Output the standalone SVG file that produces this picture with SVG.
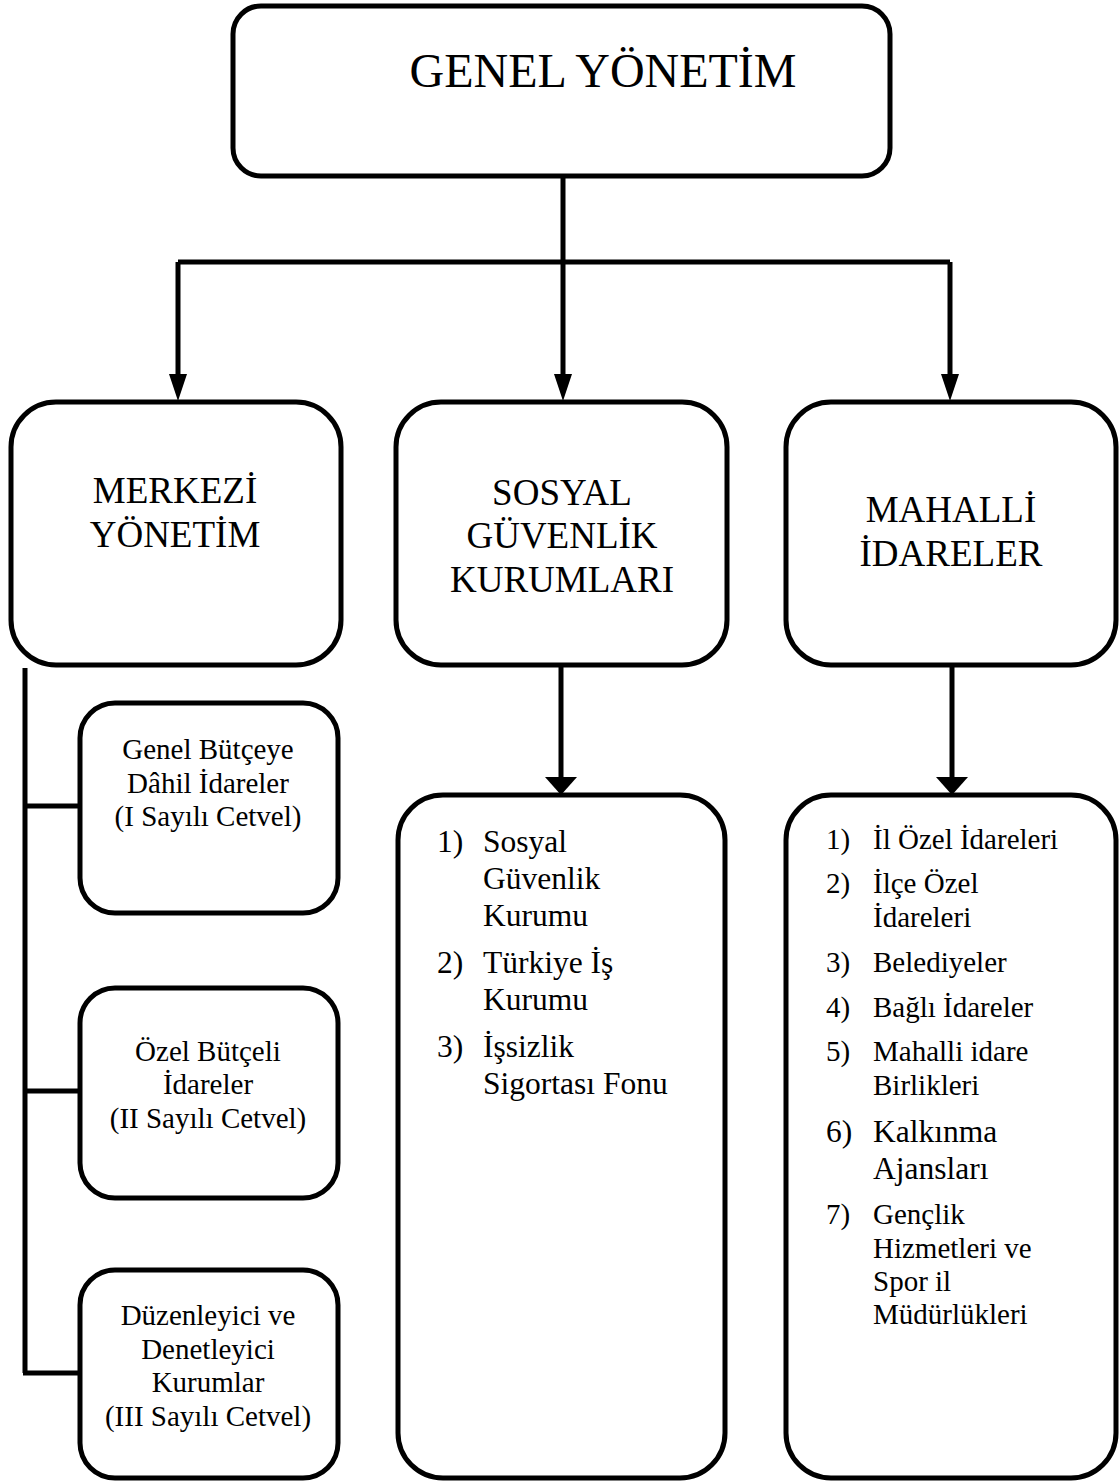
<svg xmlns="http://www.w3.org/2000/svg" width="1120" height="1483" viewBox="0 0 1120 1483">
<style>
.box{fill:#fff;stroke:#000;stroke-width:5}
.ln{fill:none;stroke:#000;stroke-width:5}
text{font-family:"Liberation Serif","Times New Roman",serif;fill:#000}
.t48{font-size:48px}
.t37{font-size:37px;text-anchor:middle}
.t29{font-size:29px}
.t31{font-size:31.5px}
.c{text-anchor:middle}
</style>
<rect width="1120" height="1483" fill="#fff"/>
<g id="connectors">
<path class="ln" d="M563 176 V378"/>
<path class="ln" d="M178 262 H950"/>
<path class="ln" d="M178 262 V378"/>
<path class="ln" d="M950 262 V378"/>
<polygon points="169,374 187,374 178,401"/>
<polygon points="554,374 572,374 563,401"/>
<polygon points="941,374 959,374 950,401"/>
<path class="ln" d="M561 665 V780"/>
<path class="ln" d="M952 665 V780"/>
<polygon points="545,777 577,777 561,795"/>
<polygon points="936,777 968,777 952,795"/>
<path class="ln" d="M25 668 V1373"/>
<path class="ln" d="M23 806 H80 M23 1091 H80 M23 1373 H80"/>
</g>
<g id="genel-yonetim">
<rect class="box" x="233" y="6" width="657" height="170" rx="28"/>
<text class="t48" x="603" y="87" text-anchor="middle">GENEL YÖNETİM</text>
</g>
<g id="merkezi-yonetim">
<rect class="box" x="11" y="402" width="330" height="263" rx="45"/>
<text class="t37"><tspan x="175" y="503">MERKEZİ</tspan><tspan x="175" y="547">YÖNETİM</tspan></text>
</g>
<g id="sosyal-guvenlik">
<rect class="box" x="396" y="402" width="331" height="263" rx="45"/>
<text class="t37"><tspan x="562" y="505">SOSYAL</tspan><tspan x="562" y="548">GÜVENLİK</tspan><tspan x="562" y="592">KURUMLARI</tspan></text>
</g>
<g id="mahalli-idareler">
<rect class="box" x="786" y="402" width="330" height="263" rx="45"/>
<text class="t37"><tspan x="951" y="522">MAHALLİ</tspan><tspan x="951" y="566">İDARELER</tspan></text>
</g>
<g id="genel-butce">
<rect class="box" x="80" y="703" width="258" height="210" rx="35"/>
<text class="t29 c"><tspan x="208" y="759">Genel Bütçeye</tspan><tspan x="208" y="793">Dâhil İdareler</tspan><tspan x="208" y="826">(I Sayılı Cetvel)</tspan></text>
</g>
<g id="ozel-butce">
<rect class="box" x="80" y="988" width="258" height="210" rx="35"/>
<text class="t29 c"><tspan x="208" y="1061">Özel Bütçeli</tspan><tspan x="208" y="1094">İdareler</tspan><tspan x="208" y="1128">(II Sayılı Cetvel)</tspan></text>
</g>
<g id="duzenleyici">
<rect class="box" x="80" y="1270" width="258" height="208" rx="35"/>
<text class="t29 c"><tspan x="208" y="1325">Düzenleyici ve</tspan><tspan x="208" y="1359">Denetleyici</tspan><tspan x="208" y="1392">Kurumlar</tspan><tspan x="208" y="1426">(III Sayılı Cetvel)</tspan></text>
</g>
<g id="sgk-list">
<rect class="box" x="398" y="795" width="327" height="683" rx="45"/>
<text class="t31">
<tspan x="437" y="852">1)</tspan><tspan x="483" y="852">Sosyal</tspan>
<tspan x="483" y="889">Güvenlik</tspan>
<tspan x="483" y="926">Kurumu</tspan>
<tspan x="437" y="973">2)</tspan><tspan x="483" y="973">Türkiye İş</tspan>
<tspan x="483" y="1010">Kurumu</tspan>
<tspan x="437" y="1057">3)</tspan><tspan x="483" y="1057">İşsizlik</tspan>
<tspan x="483" y="1094">Sigortası Fonu</tspan>
</text>
</g>
<g id="mahalli-list">
<rect class="box" x="786" y="795" width="330" height="683" rx="45"/>
<text class="t29">
<tspan x="826" y="849">1)</tspan><tspan x="873" y="849">İl Özel İdareleri</tspan>
<tspan x="826" y="893">2)</tspan><tspan x="873" y="893">İlçe Özel</tspan>
<tspan x="873" y="927">İdareleri</tspan>
<tspan x="826" y="972">3)</tspan><tspan x="873" y="972">Belediyeler</tspan>
<tspan x="826" y="1017">4)</tspan><tspan x="873" y="1017">Bağlı İdareler</tspan>
<tspan x="826" y="1061">5)</tspan><tspan x="873" y="1061">Mahalli idare</tspan>
<tspan x="873" y="1095">Birlikleri</tspan>
</text>
<text class="t31"><tspan x="826" y="1142">6)</tspan><tspan x="873" y="1142">Kalkınma</tspan>
<tspan x="873" y="1179">Ajansları</tspan></text>
<text class="t29">
<tspan x="826" y="1224">7)</tspan><tspan x="873" y="1224">Gençlik</tspan>
<tspan x="873" y="1258">Hizmetleri ve</tspan>
<tspan x="873" y="1291">Spor il</tspan>
<tspan x="873" y="1324">Müdürlükleri</tspan>
</text>
</g>
</svg>
